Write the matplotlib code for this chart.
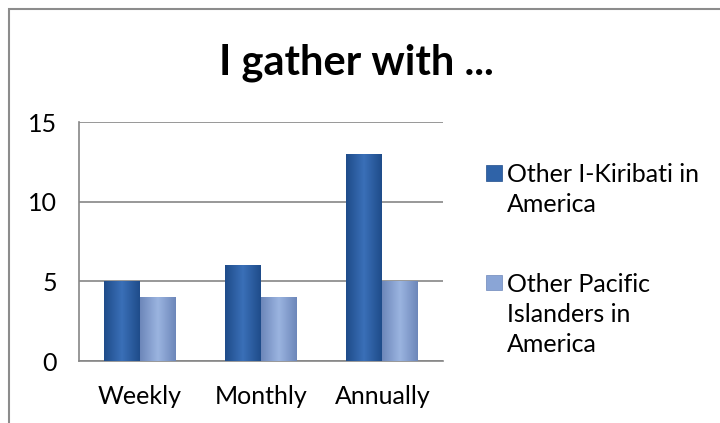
import numpy as np
import matplotlib
matplotlib.use('Agg')
import matplotlib.pyplot as plt
from matplotlib.patches import Rectangle
from matplotlib.legend_handler import HandlerPatch
from matplotlib.colors import LinearSegmentedColormap

# data
categories = ['Weekly', 'Monthly', 'Annually']
kiribati = [5, 6, 13]
pacific = [4, 4, 5]
series_names = ['Other I-Kiribati in\nAmerica', 'Other Pacific\nIslanders in\nAmerica']
yticks = [0, 5, 10, 15]

plt.rcParams['font.family'] = ['Lato', 'DejaVu Sans']

W, H = 720, 423
fig = plt.figure(figsize=(7.2, 4.23), dpi=100)
ax = fig.add_axes([79 / W, 1 - 361 / H, (443 - 79) / W, (361 - 122) / H])

# outer chart border (runs off the right and bottom edges)
fig.patches.append(Rectangle((9 / W, -0.5), 2, 1.5 - 9.5 / H, transform=fig.transFigure,
                             fill=False, edgecolor='#8c8c8c', lw=1.5))

fig.text(356 / W, 1 - 75 / H, 'I gather with ...', ha='center', va='baseline',
         fontsize=30, fontweight='bold')

x = np.arange(len(categories))
w = 0.296
dark = ['#1f4c8a', '#3a70b8', '#1f4c8a']
light = ['#6d87ba', '#9bb4e0', '#6d87ba']
bars1 = ax.bar(x - w / 2, kiribati, w, color='#2f63a8', zorder=2)
bars2 = ax.bar(x + w / 2, pacific, w, color='#8aa5d6', zorder=2)

# horizontal shading inside each bar
grad = np.linspace(0, 1, 64).reshape(1, -1)
for bars, cols in [(bars1, dark), (bars2, light)]:
    cmap = LinearSegmentedColormap.from_list('b', cols)
    for b in bars:
        x0, y0 = b.get_x(), b.get_y()
        im = ax.imshow(grad, extent=[x0, x0 + b.get_width(), y0, y0 + b.get_height()],
                       cmap=cmap, aspect='auto', zorder=3)
        im.set_clip_path(b)

ax.set_xlim(-0.5, 2.5)
ax.set_ylim(0, 15)
ax.set_xticks(x)
ax.set_xticklabels(categories)
ax.set_yticks(yticks)
ax.tick_params(axis='both', length=0, labelsize=18)
ax.tick_params(axis='y', pad=16)
ax.tick_params(axis='x', pad=17)
ax.yaxis.grid(True, color='#868686', lw=1.2, zorder=0)
ax.set_axisbelow(True)
for s in ['top', 'right']:
    ax.spines[s].set_visible(False)
for s in ['left', 'bottom']:
    ax.spines[s].set_color('#868686')
    ax.spines[s].set_linewidth(1.2)


# small square at the top of the handle box
def top_square(legend, orig_handle, xdescent, ydescent, width, height, fontsize):
    return Rectangle((-xdescent, -ydescent + height - width - 1.5), width, width)


handles = [Rectangle((0, 0), 1, 1, facecolor='#2f63a8', edgecolor='#1f4c8a', lw=0.5),
           Rectangle((0, 0), 1, 1, facecolor='#8aa5d6', edgecolor='#6d87ba', lw=0.5)]
leg = fig.legend(handles, series_names, loc='upper left', bbox_to_anchor=(486 / W, 1 - 163 / H),
                 frameon=False, fontsize=18, handlelength=0.62, handletextpad=0.2,
                 labelspacing=2.26, borderpad=0, borderaxespad=0,
                 handler_map={Rectangle: HandlerPatch(patch_func=top_square)})
for t in leg.get_texts():
    t.set_linespacing(1.38)
# marker next to the first line of its label
for col in leg._legend_handle_box.get_children():
    for row in col.get_children():
        row.align = 'top'

fig.savefig('out.png', dpi=100)
